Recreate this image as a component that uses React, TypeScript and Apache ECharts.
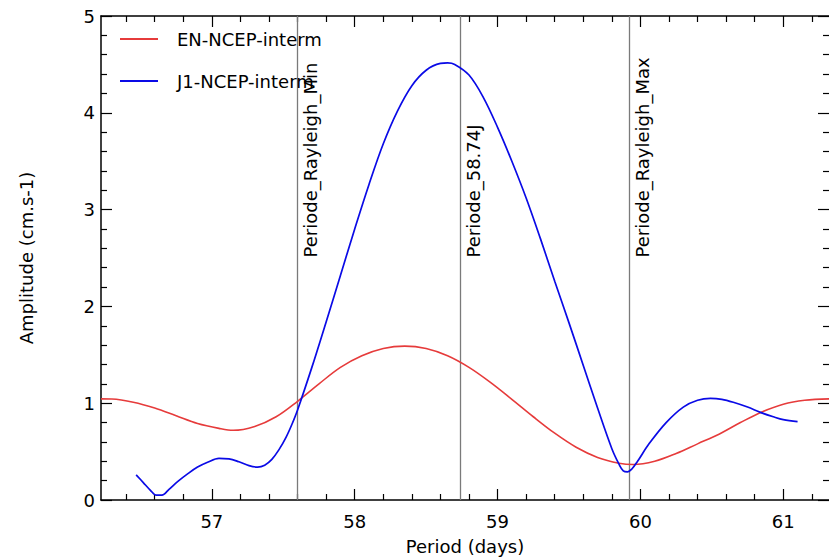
import React, { useEffect, useRef } from "react";
import * as echarts from "echarts";

const FONT = "DejaVu Sans";

// EN-NCEP-interm (red)
const enPeriod = [
  56.224, 56.3, 56.45, 56.6, 56.75, 56.9, 57.05, 57.15, 57.3, 57.45, 57.6, 57.75, 57.9,
  58.05, 58.2, 58.35, 58.5, 58.65, 58.8, 58.95, 59.1, 59.25, 59.4, 59.55, 59.7, 59.85,
  59.95, 60.1, 60.25, 60.4, 60.55, 60.7, 60.85, 61.0, 61.15, 61.32,
];
const enAmp = [
  1.045, 1.043, 1.01, 0.95, 0.87, 0.79, 0.74, 0.72, 0.76, 0.86, 1.02, 1.2, 1.37,
  1.49, 1.565, 1.59, 1.565, 1.49, 1.37, 1.215, 1.04, 0.86, 0.69, 0.545, 0.44, 0.38,
  0.366, 0.4, 0.48, 0.58, 0.68, 0.8, 0.91, 0.99, 1.03, 1.045,
];

// J1-NCEP-interm (blue)
const j1Period = [
  56.47, 56.52, 56.57, 56.61, 56.65, 56.7, 56.76, 56.83, 56.9, 56.97, 57.05, 57.12, 57.19,
  57.26, 57.32, 57.37, 57.42, 57.47, 57.52, 57.56, 57.6, 57.7, 57.8, 57.9, 58.0, 58.1,
  58.2, 58.3, 58.4, 58.5, 58.6, 58.65, 58.7, 58.8, 58.9, 59.0, 59.1, 59.2, 59.3, 59.4,
  59.5, 59.6, 59.7, 59.8, 59.85, 59.88, 59.91, 59.94, 59.98, 60.06, 60.18, 60.3, 60.4,
  60.49, 60.57, 60.65, 60.75, 60.84, 60.93, 61.0, 61.1,
];
const j1Amp = [
  0.26, 0.18, 0.1, 0.05, 0.05, 0.11, 0.19, 0.27, 0.34, 0.39, 0.43, 0.425, 0.395,
  0.355, 0.34, 0.36, 0.42, 0.52, 0.65, 0.78, 0.93, 1.37, 1.84, 2.32, 2.8, 3.26,
  3.68, 4.02, 4.28, 4.44, 4.51, 4.515, 4.5, 4.39, 4.16, 3.85, 3.5, 3.12, 2.7, 2.26,
  1.83, 1.39, 0.95, 0.53, 0.37, 0.3, 0.29, 0.32, 0.4, 0.58, 0.8, 0.96, 1.03,
  1.05, 1.04, 1.01, 0.96, 0.905, 0.86, 0.83, 0.81,
];

const seriesNames = ["EN-NCEP-interm", "J1-NCEP-interm"];
const seriesColors = ["#e63b3b", "#0a0ae6"];

const markerPeriods = [57.6, 58.74, 59.92];
const markerNames = ["Periode_Rayleigh_Min", "Periode_58.74J", "Periode_Rayleigh_Max"];
const markerLabelAmp = 2.5;

const X_MIN = 56.224;
const X_MAX = 61.32;
const xMajorTicks = [57, 58, 59, 60, 61];
const xMinorTicks = [
  56.4, 56.6, 56.8, 57.2, 57.4, 57.6, 57.8, 58.2, 58.4, 58.6, 58.8, 59.2, 59.4, 59.6, 59.8,
  60.2, 60.4, 60.6, 60.8, 61.2,
];
const Y_MIN = 0;
const Y_MAX = 5;
const Y_STEP = 1;

const xTitle = "Period (days)";
const yTitle = "Amplitude (cm.s-1)";

export default function App() {
  const ref = useRef<HTMLDivElement>(null);

  useEffect(() => {
    if (!ref.current) return;
    const chart = echarts.init(ref.current, undefined, { renderer: "svg" });

    const tickLine = { color: "#000", width: 1.2 };
    const spine = { color: "#000", width: 1.5 };

    const xBase = {
      type: "value" as const,
      min: X_MIN,
      max: X_MAX,
      splitLine: { show: false },
      gridIndex: 0,
    };

    const option: any = {
      animation: false,
      backgroundColor: "#fff",
      textStyle: { fontFamily: FONT },
      grid: { left: 101, top: 16, right: -1, bottom: 56, containLabel: false },
      legend: {
        data: seriesNames,
        orient: "vertical",
        left: 119,
        top: 30,
        padding: 0,
        itemWidth: 38,
        itemHeight: 14,
        itemGap: 24,
        selectedMode: false,
        itemStyle: { opacity: 0 },
        textStyle: { fontSize: 18, color: "#000", fontFamily: FONT, padding: [0, 0, 0, 14] },
      },
      xAxis: [
        {
          ...xBase,
          position: "bottom",
          axisLine: { show: true, onZero: false, lineStyle: spine },
          axisTick: { show: true, inside: true, length: 11, customValues: xMajorTicks, lineStyle: tickLine },
          axisLabel: { show: true, customValues: xMajorTicks, margin: 12, fontSize: 18, color: "#000", fontFamily: FONT },
          name: xTitle,
          nameLocation: "middle",
          nameGap: 37,
          nameTextStyle: { fontSize: 18, color: "#000", fontFamily: FONT },
        },
        {
          ...xBase,
          position: "bottom",
          axisLine: { show: false, onZero: false },
          axisTick: { show: true, inside: true, length: 6, customValues: xMinorTicks, lineStyle: tickLine },
          axisLabel: { show: false },
        },
        {
          ...xBase,
          position: "top",
          axisLine: { show: true, onZero: false, lineStyle: spine },
          axisTick: { show: true, inside: true, length: 11, customValues: xMajorTicks, lineStyle: tickLine },
          axisLabel: { show: false },
        },
        {
          ...xBase,
          position: "top",
          axisLine: { show: false, onZero: false },
          axisTick: { show: true, inside: true, length: 6, customValues: xMinorTicks, lineStyle: tickLine },
          axisLabel: { show: false },
        },
      ],
      yAxis: [
        {
          type: "value",
          position: "left",
          min: Y_MIN,
          max: Y_MAX,
          interval: Y_STEP,
          axisLine: { show: true, onZero: false, lineStyle: spine },
          axisTick: { show: true, inside: true, length: 11, lineStyle: tickLine },
          minorTick: { show: true, splitNumber: 5, length: 6, lineStyle: tickLine },
          axisLabel: { margin: 6, fontSize: 18, color: "#000", fontFamily: FONT },
          splitLine: { show: false },
          minorSplitLine: { show: false },
          name: yTitle,
          nameLocation: "middle",
          nameRotate: 90,
          nameGap: 66,
          nameTextStyle: { fontSize: 18, color: "#000", fontFamily: FONT },
        },
        {
          type: "value",
          position: "right",
          min: Y_MIN,
          max: Y_MAX,
          interval: Y_STEP,
          axisLine: { show: false, onZero: false },
          axisTick: { show: true, inside: true, length: 11, lineStyle: tickLine },
          minorTick: { show: true, splitNumber: 5, length: 6, lineStyle: tickLine },
          axisLabel: { show: false },
          splitLine: { show: false },
        },
      ],
      series: [
        {
          name: seriesNames[0],
          type: "line",
          xAxisIndex: 0,
          yAxisIndex: 0,
          data: enPeriod.map((p, i) => [p, enAmp[i]]),
          symbol: "none",
          showSymbol: false,
          smooth: 0.35,
          lineStyle: { color: seriesColors[0], width: 1.6 },
          itemStyle: { color: seriesColors[0] },
          z: 3,
          markLine: {
            silent: true,
            symbol: ["none", "none"],
            label: { show: false },
            lineStyle: { color: "#7a7a7a", width: 1.3, type: "solid" },
            data: markerPeriods.map((p) => ({ xAxis: p })),
            z: 1,
          },
        },
        {
          name: seriesNames[1],
          type: "line",
          xAxisIndex: 0,
          yAxisIndex: 0,
          data: j1Period.map((p, i) => [p, j1Amp[i]]),
          symbol: "none",
          showSymbol: false,
          smooth: 0.35,
          lineStyle: { color: seriesColors[1], width: 1.7 },
          itemStyle: { color: seriesColors[1] },
          z: 4,
        },
        {
          name: "markerLabels",
          type: "scatter",
          xAxisIndex: 0,
          yAxisIndex: 0,
          silent: true,
          symbolSize: 1,
          itemStyle: { color: "rgba(0,0,0,0)", opacity: 1 },
          data: markerPeriods.map((p, i) => ({ value: [p, markerLabelAmp], name: markerNames[i] })),
          label: {
            show: true,
            formatter: "{b}",
            rotate: 90,
            position: [4.5, 0],
            align: "left",
            verticalAlign: "top",
            fontSize: 18,
            color: "#000",
            opacity: 1,
            fontFamily: FONT,
          },
          z: 5,
        },
      ],
    };

    chart.setOption(option);
    return () => chart.dispose();
  }, []);

  return (
    <div
      ref={ref}
      style={{ position: "fixed", left: 0, top: 0, width: 829, height: 560, background: "#fff" }}
    />
  );
}
